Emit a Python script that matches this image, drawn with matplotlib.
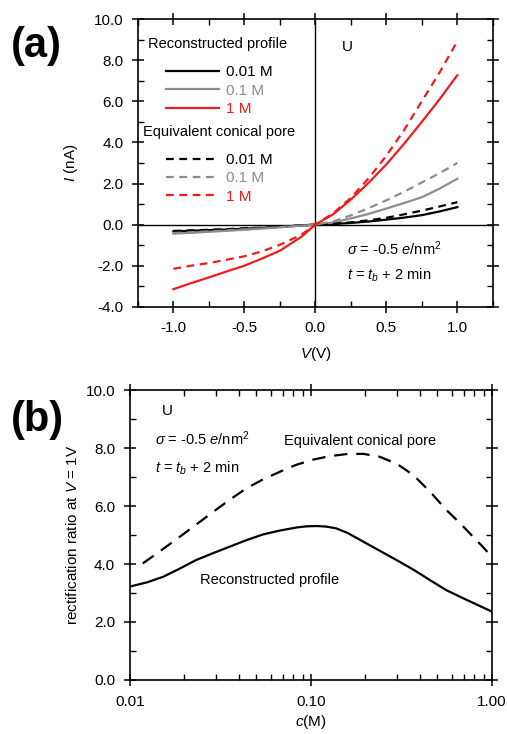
import numpy as np
import matplotlib
matplotlib.use("Agg")
import matplotlib.pyplot as plt
from matplotlib.ticker import MultipleLocator, FixedLocator, NullFormatter, FuncFormatter

plt.rcParams['font.family'] = ['Liberation Sans', 'DejaVu Sans']
plt.rcParams['mathtext.fontset'] = 'custom'
plt.rcParams['mathtext.rm'] = 'Liberation Sans'
plt.rcParams['mathtext.it'] = 'Liberation Sans:italic'

# ---- panel (a): I-V curves ----
volts = [-1.0, -0.875, -0.75, -0.625, -0.5, -0.375, -0.25, -0.1, 0.0,
         0.125, 0.25, 0.375, 0.5, 0.625, 0.75, 0.875, 1.0]

rec_001 = [-0.33, -0.3, -0.27, -0.24, -0.2, -0.16, -0.11, -0.04, 0.0,
           0.03, 0.08, 0.15, 0.24, 0.34, 0.46, 0.64, 0.85]
rec_01 = [-0.44, -0.4, -0.35, -0.3, -0.25, -0.19, -0.13, -0.05, 0.0,
          0.1, 0.3, 0.52, 0.78, 1.05, 1.33, 1.75, 2.23]
rec_1 = [-3.14, -2.85, -2.57, -2.28, -2.0, -1.65, -1.27, -0.6, 0.0,
         0.5, 1.22, 2.03, 2.93, 3.93, 5.0, 6.1, 7.27]
con_001 = [-0.31, -0.28, -0.25, -0.22, -0.18, -0.15, -0.1, -0.04, 0.0,
           0.04, 0.11, 0.21, 0.33, 0.5, 0.68, 0.88, 1.09]
con_01 = [-0.41, -0.37, -0.33, -0.28, -0.23, -0.18, -0.12, -0.05, 0.0,
          0.15, 0.45, 0.8, 1.18, 1.6, 2.05, 2.5, 3.0]
con_1 = [-2.15, -2.0, -1.87, -1.71, -1.54, -1.3, -0.98, -0.5, 0.0,
         0.55, 1.3, 2.25, 3.35, 4.6, 6.0, 7.4, 8.92]

# ---- panel (b): rectification ratio vs concentration ----
c_rec = [0.01, 0.0125, 0.0153, 0.019, 0.0233, 0.029, 0.0357, 0.044, 0.0545,
         0.067, 0.0834, 0.095, 0.108, 0.122, 0.138, 0.16, 0.195, 0.24,
         0.297, 0.37, 0.454, 0.56, 0.694, 0.84, 1.0]
rr_rec = [3.22, 3.37, 3.56, 3.85, 4.14, 4.38, 4.6, 4.82, 5.02, 5.15, 5.26,
          5.3, 5.31, 5.29, 5.23, 5.07, 4.77, 4.46, 4.14, 3.8, 3.45, 3.1,
          2.82, 2.58, 2.36]
c_con = [0.0118, 0.0149, 0.0189, 0.0234, 0.0289, 0.0357, 0.0441, 0.0545,
         0.0674, 0.083, 0.103, 0.127, 0.157, 0.195, 0.24, 0.3, 0.368,
         0.455, 0.562, 0.67, 0.788, 0.89, 1.0]
rr_con = [4.02, 4.47, 4.94, 5.37, 5.8, 6.22, 6.61, 6.92, 7.18, 7.42, 7.6,
          7.72, 7.79, 7.8, 7.7, 7.45, 7.07, 6.5, 5.86, 5.4, 4.94, 4.6, 4.25]

gray = '#8c8c8c'
red = '#ee1c1c'

fig = plt.figure(figsize=(5.07, 7.34), dpi=100)

ax1 = fig.add_axes([0.272, 0.582, 0.700, 0.392])
ax1.axhline(0, color='black', lw=1.0)
ax1.axvline(0, color='black', lw=1.0)
dash = (0, (3.5, 2.5))
l1, = ax1.plot(volts, rec_001, color='black', lw=1.6, label='0.01 M')
l2, = ax1.plot(volts, rec_01, color=gray, lw=1.6, label='0.1 M')
l3, = ax1.plot(volts, rec_1, color=red, lw=1.6, label='1 M')
l4, = ax1.plot(volts, con_001, color='black', lw=1.6, ls=dash, label='0.01 M')
l5, = ax1.plot(volts, con_01, color=gray, lw=1.6, ls=dash, label='0.1 M')
l6, = ax1.plot(volts, con_1, color=red, lw=1.6, ls=dash, label='1 M')

ax1.set_xlim(-1.25, 1.25)
ax1.set_ylim(-4, 10)
ax1.xaxis.set_major_locator(MultipleLocator(0.5))
ax1.xaxis.set_minor_locator(MultipleLocator(0.25))
ax1.yaxis.set_major_locator(MultipleLocator(2))
ax1.yaxis.set_minor_locator(MultipleLocator(1))
ax1.xaxis.set_major_formatter(FuncFormatter(lambda v, p: f"{v:.1f}"))
ax1.yaxis.set_major_formatter(FuncFormatter(lambda v, p: f"{v:.1f}"))
ax1.set_xlabel(r"$V$(V)", fontsize=11, labelpad=7)
ax1.set_ylabel(r"$I$ (nA)", fontsize=11, labelpad=10)

# legend titles as text, the two legends below them
ax1.text(0.028, 0.913, "Reconstructed profile", transform=ax1.transAxes,
         fontsize=10.5, va='center')
ax1.text(0.014, 0.608, "Equivalent conical pore", transform=ax1.transAxes,
         fontsize=10.5, va='center')
leg_kw = dict(loc='upper left', frameon=False, fontsize=11, handlelength=3.5,
              handletextpad=0.4, labelspacing=0.29, borderaxespad=0,
              borderpad=0, labelcolor='linecolor')
leg1 = ax1.legend(handles=[l1, l2, l3], bbox_to_anchor=(0.079, 0.84), **leg_kw)
ax1.add_artist(leg1)
ax1.legend(handles=[l4, l5, l6], bbox_to_anchor=(0.079, 0.535), **leg_kw)

ax1.text(0.575, 0.89, "U", transform=ax1.transAxes, fontsize=11)
ax1.text(0.59, 0.18, r"$\sigma$ = -0.5 $e$/nm$^2$", transform=ax1.transAxes,
         fontsize=10.5)
ax1.text(0.59, 0.095, r"$t$ = $t_b$ + 2 min", transform=ax1.transAxes,
         fontsize=10.5)

# ---- panel (b) ----
ax2 = fig.add_axes([0.256, 0.0736, 0.714, 0.395])
ax2.plot(c_rec, rr_rec, color='black', lw=1.6)
ax2.plot(c_con, rr_con, color='black', lw=1.6, ls=(0, (6, 4)))
ax2.set_xscale('log')
ax2.set_xlim(0.01, 1.0)
ax2.set_ylim(0, 10)
ax2.xaxis.set_major_locator(FixedLocator([0.01, 0.1, 1.0]))
ax2.xaxis.set_major_formatter(FuncFormatter(lambda v, p: f"{v:.2f}"))
ax2.xaxis.set_minor_locator(FixedLocator(
    [k * 0.01 for k in range(2, 10)] + [k * 0.1 for k in range(2, 10)]))
ax2.xaxis.set_minor_formatter(NullFormatter())
ax2.yaxis.set_major_locator(MultipleLocator(2))
ax2.yaxis.set_minor_locator(MultipleLocator(1))
ax2.yaxis.set_major_formatter(FuncFormatter(lambda v, p: f"{v:.1f}"))
ax2.set_xlabel(r"$c$(M)", fontsize=11, labelpad=3)
ax2.set_ylabel(r"rectification ratio at $V$ = 1V", fontsize=11, labelpad=4)

ax2.text(0.09, 0.915, "U", transform=ax2.transAxes, fontsize=11)
ax2.text(0.07, 0.81, r"$\sigma$ = -0.5 $e$/nm$^2$", transform=ax2.transAxes,
         fontsize=10.5)
ax2.text(0.07, 0.715, r"$t$ = $t_b$ + 2 min", transform=ax2.transAxes,
         fontsize=10.5)
ax2.text(0.425, 0.81, "Equivalent conical pore", transform=ax2.transAxes,
         fontsize=10.5)
ax2.text(0.195, 0.33, "Reconstructed profile", transform=ax2.transAxes,
         fontsize=10.5)

for ax in (ax1, ax2):
    for s in ax.spines.values():
        s.set_linewidth(1.2)
    ax.tick_params(which='both', top=True, right=True, labelsize=11)
    ax.tick_params(which='major', direction='inout', length=9, width=1.1, pad=6)
    ax.tick_params(which='minor', direction='in', length=4, width=1.0)

fig.text(0.022, 0.922, "(a)", fontsize=30, fontweight='bold')
fig.text(0.022, 0.413, "(b)", fontsize=30, fontweight='bold')

fig.savefig("out.png", dpi=100)
